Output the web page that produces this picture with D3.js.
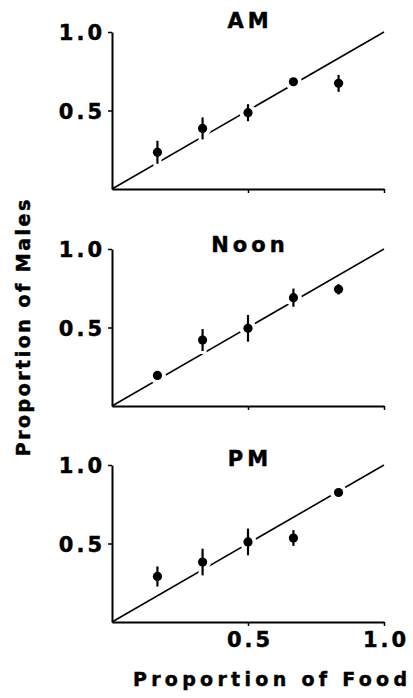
<!DOCTYPE html>
<html>
<head>
<meta charset="utf-8">
<script src="https://cdn.jsdelivr.net/npm/d3@7"></script>
<style>
  html, body { margin: 0; padding: 0; background: #fff; }
  svg { display: block; }
  text { font-family: "DejaVu Sans", "Liberation Sans", Arial, sans-serif; font-weight: 700; fill: #000; stroke: #000; stroke-width: 0.45px; }
</style>
</head>
<body>
<svg id="chart" width="413" height="698"></svg>
<script>
// ---- data ----
const periods = ["AM", "Noon", "PM"];
const foodProportion = [0.167, 0.333, 0.5, 0.667, 0.833];
const amMales   = [0.234, 0.386, 0.486, 0.683, 0.673];
const amErr     = [0.073, 0.070, 0.054, 0.0,   0.054];
const noonMales = [0.195, 0.420, 0.495, 0.690, 0.743];
const noonErr   = [0.0,   0.070, 0.085, 0.058, 0.033];
const pmMales   = [0.290, 0.382, 0.510, 0.535, 0.825];
const pmErr     = [0.064, 0.085, 0.085, 0.050, 0.0];
const tickValues = [0.5, 1.0];
const xTitle = "Proportion of Food";
const yTitle = "Proportion of Males";

const seriesValues = [amMales, noonMales, pmMales];
const seriesErrors = [amErr, noonErr, pmErr];

// ---- layout ----
const svg = d3.select("#chart");
const left = 112, plotW = 272, plotH = 157;
const panelTops = [32, 249, 465];
const titleDy = [-4, 3, 1];
const tickLS = 3, titleLS = 4;

const x = d3.scaleLinear().domain([0, 1]).range([left, left + plotW]);

periods.forEach((name, i) => {
  const top = panelTops[i];
  const y = d3.scaleLinear().domain([0, 1]).range([top + plotH, top]);
  const g = svg.append("g");

  // identity line (points with white halos break it)
  g.append("line")
    .attr("x1", x(0)).attr("y1", y(0))
    .attr("x2", x(1)).attr("y2", y(1))
    .attr("stroke", "#000").attr("stroke-width", 1.6);

  // y axis
  const yAxis = d3.axisLeft(y).tickValues(tickValues).tickSize(4).tickSizeOuter(0)
    .tickFormat(d3.format(".1f")).tickPadding(6);
  const ya = g.append("g").attr("transform", `translate(${x(0)},0)`).call(yAxis);
  ya.select(".domain").attr("stroke-width", 2);
  ya.selectAll(".tick line").attr("stroke-width", 1.5);
  ya.selectAll(".tick text")
    .style("font-size", "21px").style("letter-spacing", tickLS + "px")
    .attr("dx", tickLS).attr("dy", "0.36em");

  // x axis
  const xAxis = d3.axisBottom(x).tickValues(tickValues).tickSize(4).tickSizeOuter(0)
    .tickFormat(i === periods.length - 1 ? d3.format(".1f") : () => "").tickPadding(6);
  const xa = g.append("g").attr("transform", `translate(0,${y(0)})`).call(xAxis);
  xa.select(".domain").attr("stroke-width", 2);
  xa.selectAll(".tick line").attr("stroke-width", 1.5);
  xa.selectAll(".tick text")
    .style("font-size", "21px").style("letter-spacing", tickLS + "px")
    .attr("dx", tickLS / 2);
  g.selectAll(".tick text").attr("font-family", null).attr("font-size", null);

  // title
  g.append("text")
    .attr("x", x(0.5) + titleLS / 2).attr("y", top + titleDy[i])
    .attr("text-anchor", "middle")
    .style("font-size", "21px").style("letter-spacing", titleLS + "px")
    .text(name);

  const data = foodProportion.map((f, j) => ({ f, m: seriesValues[i][j], e: seriesErrors[i][j] }));

  // halos
  const halo = g.append("g").attr("stroke", "#fff").attr("fill", "#fff");
  halo.selectAll("line").data(data.filter(d => d.e > 0)).join("line")
    .attr("x1", d => x(d.f)).attr("x2", d => x(d.f))
    .attr("y1", d => y(d.m - d.e) + 3).attr("y2", d => y(d.m + d.e) - 3)
    .attr("stroke-width", 8);
  halo.selectAll("circle").data(data).join("circle")
    .attr("cx", d => x(d.f)).attr("cy", d => y(d.m)).attr("r", 8.5).attr("stroke", "none");

  // error bars
  g.append("g").selectAll("line").data(data.filter(d => d.e > 0)).join("line")
    .attr("x1", d => x(d.f)).attr("x2", d => x(d.f))
    .attr("y1", d => y(d.m - d.e)).attr("y2", d => y(d.m + d.e))
    .attr("stroke", "#000").attr("stroke-width", 2.2);

  // points
  g.append("g").selectAll("circle").data(data).join("circle")
    .attr("cx", d => x(d.f)).attr("cy", d => y(d.m)).attr("r", 4.6)
    .attr("fill", "#000");
});

// axis titles
svg.append("text")
  .attr("x", 270 + 2.15).attr("y", 686)
  .attr("text-anchor", "middle")
  .style("font-size", "19px").style("letter-spacing", "4.3px")
  .text(xTitle);

svg.append("text")
  .attr("transform", "translate(30,328) rotate(-90)")
  .attr("x", 1.25).attr("text-anchor", "middle")
  .style("font-size", "19px").style("letter-spacing", "2.5px")
  .text(yTitle);
</script>
</body>
</html>
